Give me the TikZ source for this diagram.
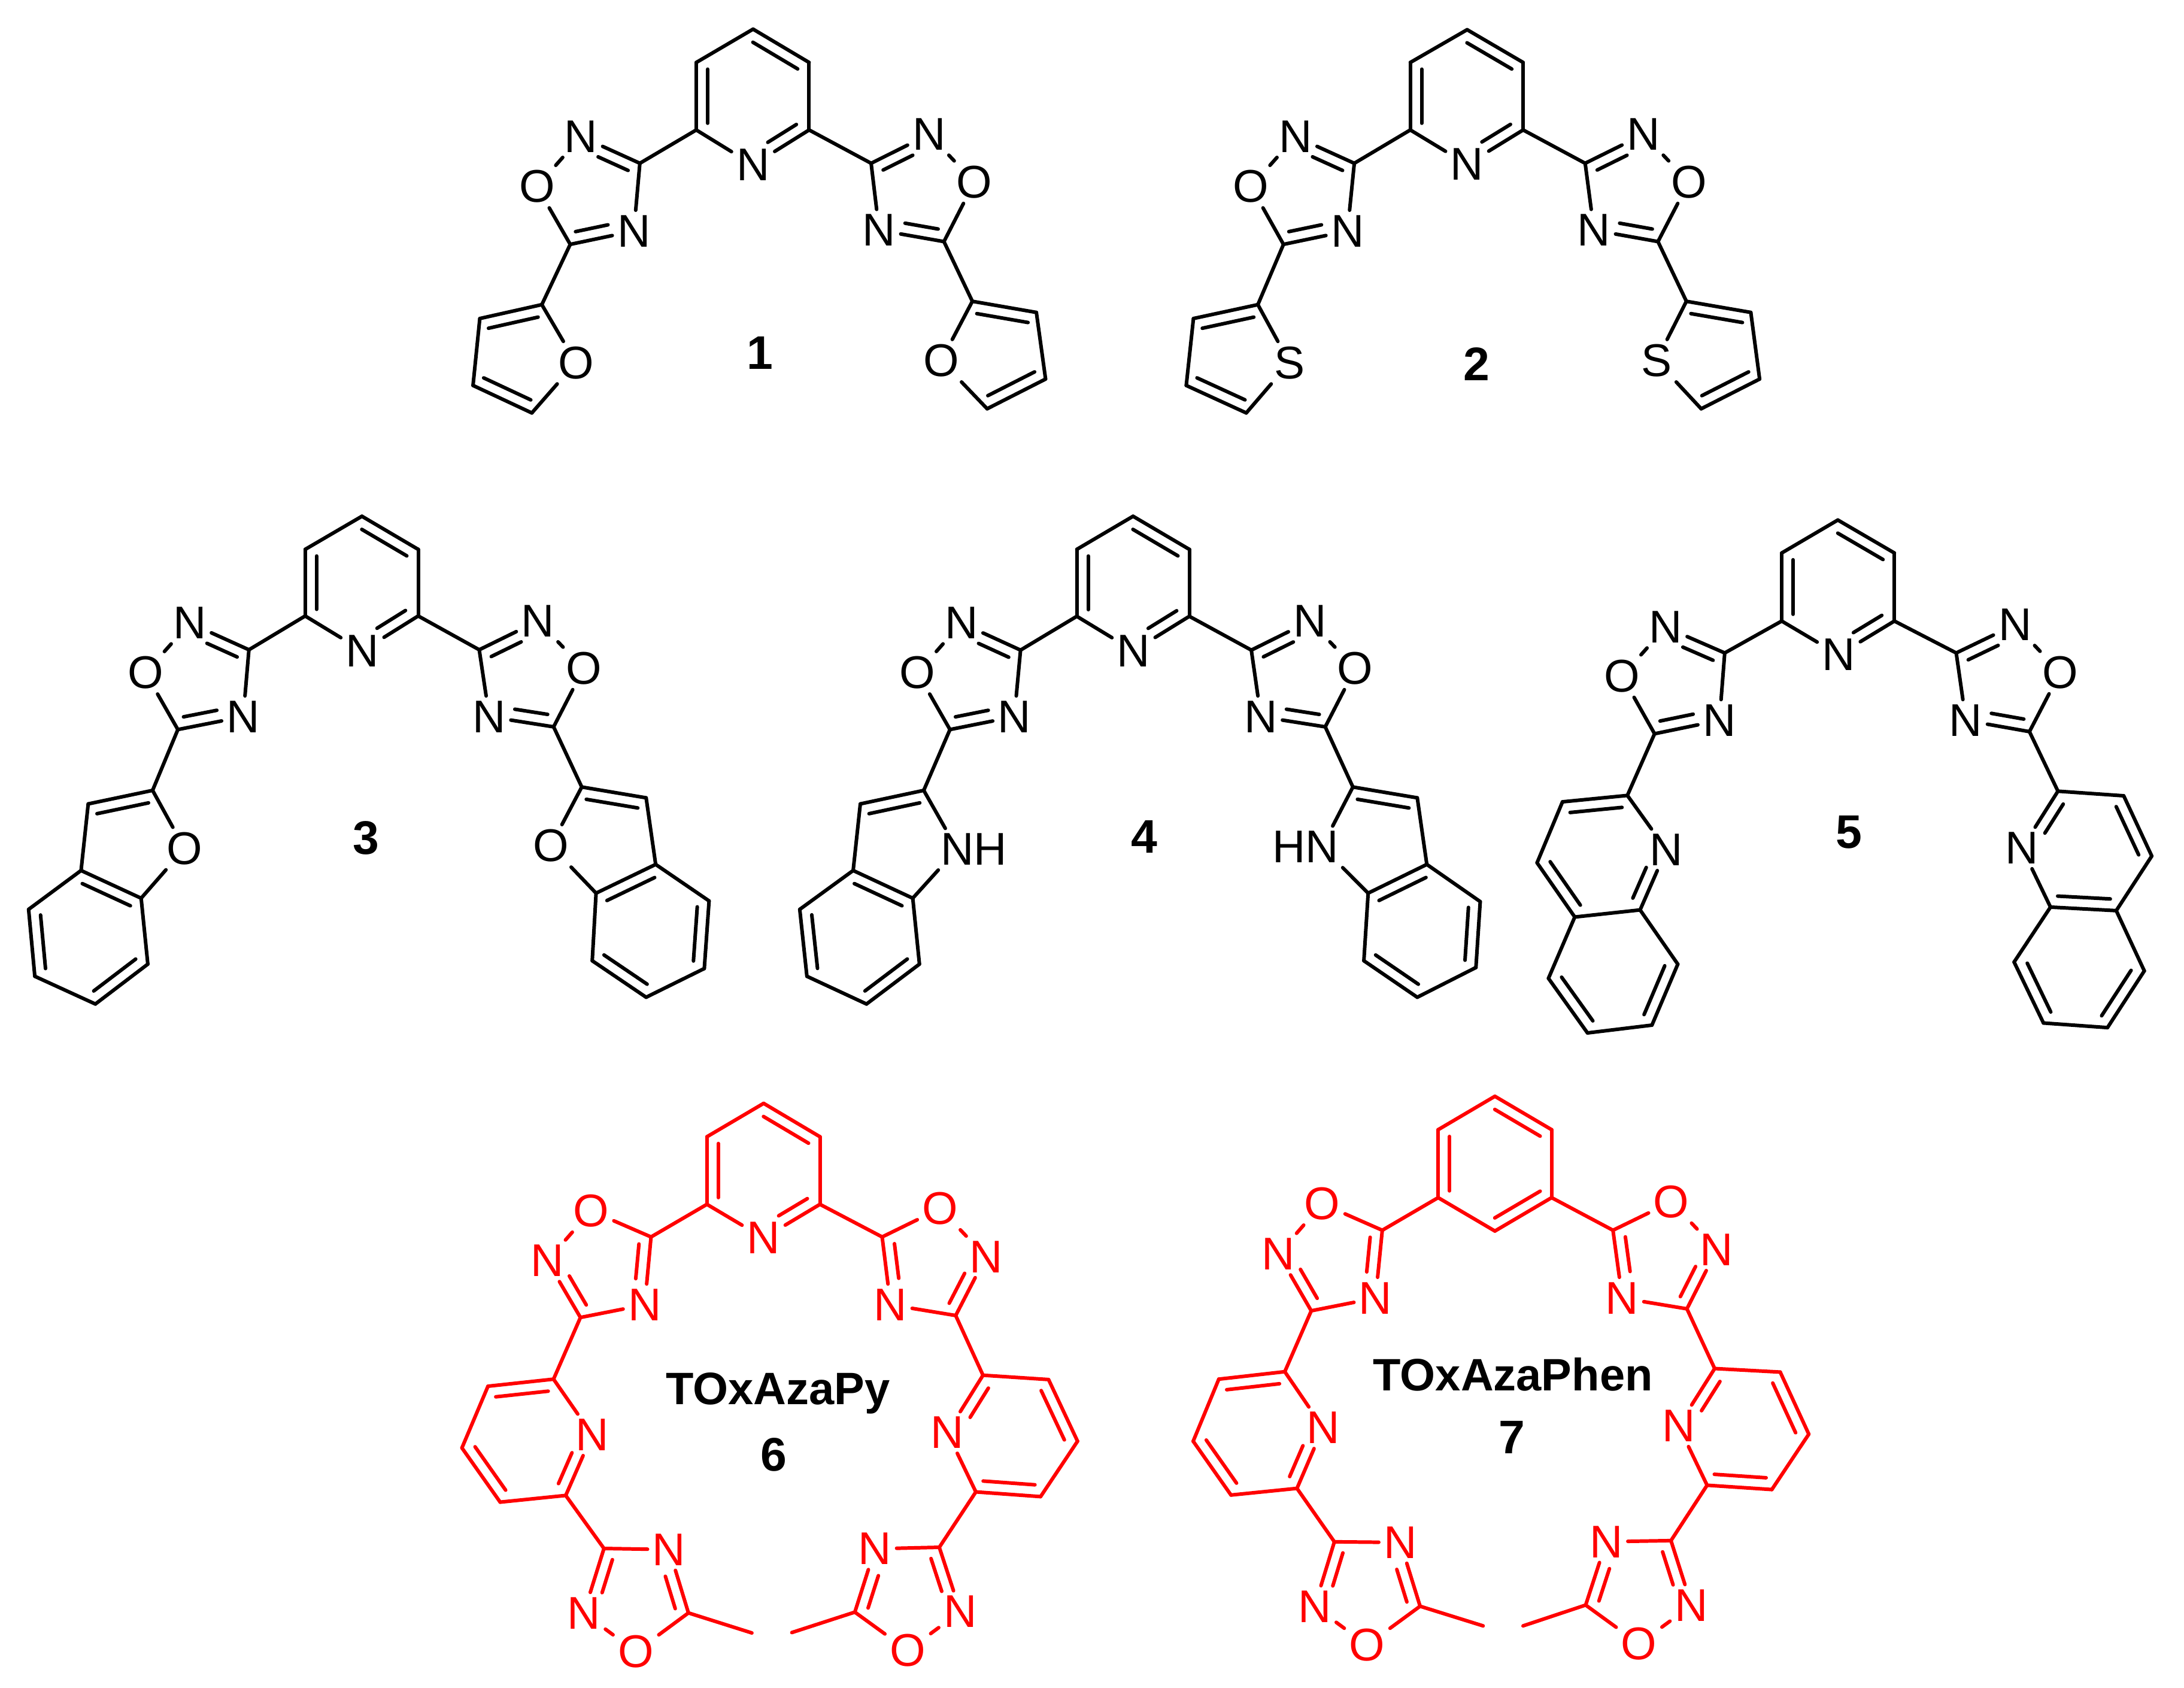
\documentclass[tikz,border=0pt]{standalone}
\usepackage{fontspec}
\setmainfont{Liberation Sans}
\usetikzlibrary{calc}
\newcommand\atomfont{\fontsize{10.9}{12}\selectfont}
\newcommand\titlefont{\fontsize{10.8}{12}\selectfont\bfseries}
\newcommand\numfont{\fontsize{11.2}{12}\selectfont\bfseries}
\tikzset{
  bond/.style={line width=0.85pt,line cap=round,line join=round},
  atom/.style={inner sep=1pt,yshift=0.4pt,font=\atomfont},
  mollabel/.style={inner sep=0pt,text=black,font=\numfont},
  moltitle/.style={inner sep=0pt,text=black,font=\titlefont},
}
\newcommand\dbo{0.095cm}
% carbon position, labelled atom
\let\C\relax\let\A\relax
\newcommand\C[2]{\coordinate (#1) at (#2);}
\newcommand\A[3]{\node[atom] (#1) at (#2) {#3};}
% bonds
\newcommand\sg[2]{\draw[bond] (#1)--(#2);}
\newcommand\dbb[3]{\draw[bond] (#1)--(#2);
  \draw[bond] ($(#1)!.1!(#2)!\dbo!#3:(#2)$)--($(#1)!.9!(#2)!\dbo!#3:(#2)$);}
\newcommand\dbn[3]{\draw[bond] (#1)--(#2);
  \draw[bond] ($(#1)!.12!(#2)!\dbo!#3:(#2)$)--($(#1)!.63!(#2)!\dbo!#3:(#2)$);}
% central six-membered ring, without the pc-pn bond
\newcommand\toprng{\dbb{pa}{pb}{-90}\sg{pb}{pc}\sg{pn}{pd}\dbb{pd}{pe}{-90}\sg{pe}{pa}}
% scaffold of 1-5
\newcommand\coreA{\toprng\dbn{pc}{pn}{-90}
  \sg{pd}{lc3}\dbn{lc3}{ln2}{90}\sg{ln2}{lo}\sg{lo}{lc5}\dbn{lc5}{ln4}{90}\sg{ln4}{lc3}
  \sg{pc}{rc3}\dbn{rc3}{rn2}{-90}\sg{rn2}{ro}\sg{ro}{rc5}\dbn{rc5}{rn4}{-90}\sg{rn4}{rc3}
  \sg{lc5}{lc2}\sg{rc5}{rc2}}
% five-membered side rings of 1, 2
\newcommand\fiveL{\dbb{lc2}{lcb}{90}\sg{lcb}{lcc}\dbb{lcc}{lcd}{90}\sg{lcd}{lx}\sg{lx}{lc2}}
\newcommand\fiveR{\dbb{rc2}{rcb}{-90}\sg{rcb}{rcc}\dbb{rcc}{rcd}{-90}\sg{rcd}{rx}\sg{rx}{rc2}}
% fused side rings of 3, 4
\newcommand\benzoL{\dbb{lc2}{lcb}{90}\sg{lcb}{lca}\dbb{lca}{lcj}{-90}\sg{lcj}{lx}\sg{lx}{lc2}
  \sg{lca}{lce}\dbb{lce}{lcf}{90}\sg{lcf}{lcg}\dbb{lcg}{lch}{90}\sg{lch}{lcj}}
\newcommand\benzoR{\dbb{rc2}{rcb}{-90}\sg{rcb}{rca}\dbb{rca}{rcj}{90}\sg{rcj}{rx}\sg{rx}{rc2}
  \sg{rca}{rce}\dbb{rce}{rcf}{-90}\sg{rcf}{rcg}\dbb{rcg}{rch}{-90}\sg{rch}{rcj}}
% macrocycle arms of 6, 7
\newcommand\coreB{
  \sg{pd}{lc5}\sg{lc5}{lo}\sg{lo}{ln2}\dbn{lc3}{ln2}{-90}\sg{lc3}{ln4}\dbn{lc5}{ln4}{-90}
  \sg{pc}{rc5}\sg{rc5}{ro}\sg{ro}{rn2}\dbn{rc3}{rn2}{90}\sg{rc3}{rn4}\dbn{rc5}{rn4}{90}
  \sg{lc3}{a1}\dbb{a1}{a2}{90}\sg{a2}{a3}\dbb{a3}{a4}{90}\sg{a4}{a5}\dbn{a5}{aN}{90}\sg{aN}{a1}
  \sg{rc3}{b1}\dbn{b1}{bN}{90}\dbb{b2}{b3}{-90}\sg{b1}{b2}\sg{b3}{b4}\dbb{b4}{b5}{-90}\sg{b5}{bN}
  \sg{a5}{dc3}\sg{dc3}{dn4}\dbn{dc5}{dn4}{90}\sg{dc5}{do}\sg{do}{dn2}\dbn{dc3}{dn2}{90}\sg{dc5}{dme}
  \sg{b5}{ec3}\sg{ec3}{en4}\dbn{ec5}{en4}{-90}\sg{ec5}{eo}\sg{eo}{en2}\dbn{ec3}{en2}{-90}\sg{ec5}{eme}}
\begin{document}
\begin{tikzpicture}
\path[fill=white,use as bounding box] (0,0) rectangle (18.24cm,-14.095cm);

% ---- 1 ----
\begin{scope}[shift={(3.8cm,0cm)},x=0.003348cm,y=-0.002315cm,name prefix=m1-]
\C{pa}{745,105}\C{pb}{885,225}\C{pc}{885,468}\A{pn}{745,600}{N}\C{pd}{603,468}\C{pe}{603,225}
\C{lc3}{462,588}\A{ln2}{315,498}{N}\A{lo}{205,678}{O}\C{lc5}{288,880}\A{ln4}{447,838}{N}
\C{rc3}{1040,588}\A{rn2}{1185,490}{N}\A{ro}{1298,662}{O}\C{rc5}{1222,870}\A{rn4}{1060,835}{N}
\C{lc2}{217,1097}\C{lcb}{62,1147}\C{lcc}{45,1388}\C{lcd}{192,1487}\A{lx}{302,1312}{O}
\C{rc2}{1293,1085}\C{rcb}{1453,1125}\C{rcc}{1476,1365}\C{rcd}{1330,1472}\A{rx}{1215,1305}{O}
\coreA\fiveL\fiveR
\node[mollabel] (t) at (762,1271) {1};
\end{scope}

% ---- 2 ----
\begin{scope}[shift={(9.75cm,0cm)},x=0.003348cm,y=-0.002315cm,name prefix=m2-]
\C{pa}{749,107}\C{pb}{889,225}\C{pc}{889,468}\A{pn}{749,598}{N}\C{pd}{607,468}\C{pe}{607,225}
\C{lc3}{467,588}\A{ln2}{320,498}{N}\A{lo}{209,678}{O}\C{lc5}{290,880}\A{ln4}{450,838}{N}
\C{rc3}{1044,588}\A{rn2}{1190,490}{N}\A{ro}{1303,662}{O}\C{rc5}{1226,870}\A{rn4}{1066,835}{N}
\C{lc2}{226,1097}\C{lcb}{65,1147}\C{lcc}{47,1388}\C{lcd}{197,1487}\A{lx}{305,1312}{S}
\C{rc2}{1297,1085}\C{rcb}{1458,1125}\C{rcc}{1480,1365}\C{rcd}{1334,1472}\A{rx}{1222,1305}{S}
\coreA\fiveL\fiveR
\node[mollabel] (t) at (773,1311) {2};
\end{scope}

% ---- 3 ----
\begin{scope}[shift={(0cm,-4.15cm)},x=0.003986cm,y=-0.00283cm,name prefix=m3-]
\C{pa}{759,57}\C{pb}{877,155}\C{pc}{877,352}\A{pn}{760,460}{N}\C{pd}{640,352}\C{pe}{640,155}
\C{lc3}{522,452}\A{ln2}{398,378}{N}\A{lo}{305,525}{O}\C{lc5}{373,688}\A{ln4}{510,655}{N}
\C{rc3}{1005,452}\A{rn2}{1128,372}{N}\A{ro}{1224,512}{O}\C{rc5}{1161,680}\A{rn4}{1026,655}{N}
\C{lc2}{320,868}\C{lcb}{185,908}\C{lca}{170,1105}\C{lcj}{296,1187}\A{lx}{387,1045}{O}
\C{lce}{60,1220}\C{lcf}{73,1418}\C{lcg}{200,1500}\C{lch}{310,1382}
\C{rc2}{1220,858}\C{rcb}{1355,890}\C{rca}{1375,1087}\C{rcj}{1250,1172}\A{rx}{1155,1037}{O}
\C{rce}{1487,1195}\C{rcf}{1477,1395}\C{rcg}{1355,1480}\C{rch}{1242,1372}
\coreA\benzoL\benzoR
\node[mollabel] (t) at (767,1008) {3};
\end{scope}

% ---- 4 ----
\begin{scope}[shift={(6.5cm,-4.15cm)},x=0.003986cm,y=-0.00283cm,name prefix=m4-]
\C{pa}{744,57}\C{pb}{862,155}\C{pc}{862,353}\A{pn}{745,460}{N}\C{pd}{626,353}\C{pe}{626,155}
\C{lc3}{508,453}\A{ln2}{384,378}{N}\A{lo}{292,525}{O}\C{lc5}{360,688}\A{ln4}{495,655}{N}
\C{rc3}{992,453}\A{rn2}{1115,372}{N}\A{ro}{1210,512}{O}\C{rc5}{1147,680}\A{rn4}{1012,655}{N}
\C{lc2}{305,868}\C{lcb}{172,908}\C{lca}{157,1105}\C{lcj}{282,1187}\A{lx}{375,1047}{N\rlap{H}}
\C{lce}{45,1220}\C{lcf}{60,1418}\C{lcg}{185,1500}\C{lch}{296,1382}
\C{rc2}{1205,858}\C{rcb}{1340,890}\C{rca}{1360,1087}\C{rcj}{1237,1172}\A{rx}{1140,1040}{\llap{H}N}
\C{rce}{1472,1197}\C{rcf}{1463,1392}\C{rcg}{1340,1480}\C{rch}{1228,1372}
\coreA\benzoL\benzoR
\node[mollabel] (t) at (768,1006) {4};
\end{scope}

% ---- 5 ----
\begin{scope}[shift={(12.5cm,-4.15cm)},x=0.003661cm,y=-0.002958cm,name prefix=m5-]
\C{pa}{778,65}\C{pb}{907,158}\C{pc}{907,350}\A{pn}{780,450}{N}\C{pd}{650,350}\C{pe}{650,158}
\C{lc3}{520,440}\A{ln2}{385,372}{N}\A{lo}{286,510}{O}\C{lc5}{360,668}\A{ln4}{508,635}{N}
\C{rc3}{1048,440}\A{rn2}{1182,365}{N}\A{ro}{1285,500}{O}\C{rc5}{1215,662}\A{rn4}{1070,635}{N}
\C{lc2}{298,842}\C{lcb}{150,860}\C{lcc}{92,1032}\C{lca}{178,1185}\C{lcj}{327,1165}\A{lx}{387,1000}{N}
\C{lce}{118,1358}\C{lcf}{207,1512}\C{lcg}{354,1490}\C{lch}{413,1318}
\C{rc2}{1280,830}\C{rcb}{1430,843}\C{rcc}{1494,1013}\C{rca}{1413,1167}\C{rcj}{1263,1157}\A{rx}{1198,995}{N}
\C{rce}{1477,1337}\C{rcf}{1393,1497}\C{rcg}{1247,1484}\C{rch}{1180,1312}
\coreA
\sg{lc2}{lx}\dbb{lc2}{lcb}{90}\sg{lcb}{lcc}\dbb{lcc}{lca}{90}\sg{lca}{lcj}\dbn{lcj}{lx}{90}
\sg{lca}{lce}\dbb{lce}{lcf}{90}\sg{lcf}{lcg}\dbb{lcg}{lch}{90}\sg{lch}{lcj}
\sg{rc2}{rcb}\dbn{rc2}{rx}{90}\dbb{rcb}{rcc}{-90}\sg{rcc}{rca}\dbb{rca}{rcj}{-90}\sg{rcj}{rx}
\sg{rca}{rce}\dbb{rce}{rcf}{-90}\sg{rcf}{rcg}\dbb{rcg}{rch}{-90}\sg{rch}{rcj}
\node[mollabel] (t) at (803,946) {5};
\end{scope}

% ---- 6 ----
\begin{scope}[shift={(3.7cm,-9cm)},x=0.003508cm,y=-0.003277cm,name prefix=m6-,color=red]
\C{pa}{763,65}\C{pb}{897,150}\C{pc}{897,322}\A{pn}{763,412}{N}\C{pd}{628,322}\C{pe}{628,150}
\C{lc5}{495,405}\A{lo}{352,343}{O}\A{ln2}{248,470}{N}\C{lc3}{327,610}\A{ln4}{480,582}{N}
\C{rc5}{1045,405}\A{ro}{1183,337}{O}\A{rn2}{1292,460}{N}\C{rc3}{1220,605}\A{rn4}{1065,582}{N}
\C{a1}{263,767}\C{a2}{107,785}\C{a3}{45,942}\C{a4}{136,1080}\C{a5}{292,1063}\A{aN}{355,913}{N}
\C{b1}{1285,757}\C{b2}{1441,768}\C{b3}{1510,925}\C{b4}{1422,1066}\C{b5}{1268,1054}\A{bN}{1200,907}{N}
\C{dc3}{383,1198}\A{dn4}{538,1205}{N}\C{dc5}{584,1362}\A{do}{459,1465}{O}\A{dn2}{335,1367}{N}\C{dme}{735,1413}
\C{ec3}{1181,1195}\A{en4}{1028,1203}{N}\C{ec5}{980,1360}\A{eo}{1106,1462}{O}\A{en2}{1231,1363}{N}\C{eme}{830,1412}
\toprng\dbn{pc}{pn}{-90}\coreB
\node[moltitle] (t) at (797,803) {TOxAzaPy};
\node[mollabel] (n) at (787,960) {6};
\end{scope}

% ---- 7 ----
\begin{scope}[shift={(9.8cm,-9cm)},x=0.003508cm,y=-0.003277cm,name prefix=m7-,color=red]
\C{pa}{765,47}\C{pb}{900,132}\C{pc}{900,305}\C{pn}{765,390}\C{pd}{630,305}\C{pe}{630,132}
\C{lc5}{497,388}\A{lo}{354,325}{O}\A{ln2}{250,453}{N}\C{lc3}{328,593}\A{ln4}{481,565}{N}
\C{rc5}{1046,388}\A{ro}{1185,320}{O}\A{rn2}{1293,442}{N}\C{rc3}{1222,588}\A{rn4}{1068,565}{N}
\C{a1}{265,748}\C{a2}{108,767}\C{a3}{47,925}\C{a4}{137,1062}\C{a5}{294,1045}\A{aN}{356,895}{N}
\C{b1}{1288,740}\C{b2}{1444,749}\C{b3}{1512,907}\C{b4}{1424,1048}\C{b5}{1270,1037}\A{bN}{1202,890}{N}
\C{dc3}{383,1181}\A{dn4}{540,1187}{N}\C{dc5}{587,1345}\A{do}{461,1448}{O}\A{dn2}{336,1350}{N}\C{dme}{737,1395}
\C{ec3}{1184,1178}\A{en4}{1030,1185}{N}\C{ec5}{981,1342}\A{eo}{1108,1445}{O}\A{en2}{1233,1347}{N}\C{eme}{832,1395}
\toprng\dbb{pc}{pn}{-90}\coreB
\node[moltitle] (t) at (808,755) {TOxAzaPhen};
\node[mollabel] (n) at (805,915) {7};
\end{scope}
\end{tikzpicture}
\end{document}
